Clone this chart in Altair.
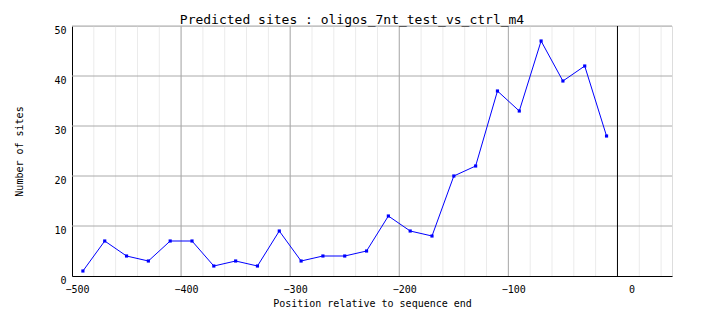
import altair as alt
import pandas as pd

# data
positions = [-490, -470, -450, -430, -410, -390, -370, -350, -330, -310,
             -290, -270, -250, -230, -210, -190, -170, -150, -130, -110,
             -90, -70, -50, -30, -10]
counts = [1, 7, 4, 3, 7, 7, 2, 3, 2, 9,
          3, 4, 4, 5, 12, 9, 8, 20, 22, 37,
          33, 47, 39, 42, 28]

x_ticks = [-500, -400, -300, -200, -100, 0]
y_ticks = [0, 10, 20, 30, 40, 50]
minor_x = list(range(-480, 51, 20))
major_x = [-400, -300, -200, -100]
zero_x = [0]

FONT = "DejaVu Sans Mono"

df = pd.DataFrame({"pos": positions, "n": counts})
xs = alt.Scale(domain=[-500, 50], nice=False, zero=False)
ys = alt.Scale(domain=[0, 50], nice=False)

x_axis = alt.Axis(values=x_ticks, grid=False, ticks=False, tickSize=0,
                  domainColor="black", labelAlign="right", labelOffset=17,
                  labelBaseline="top", labelPadding=8, labelFontSize=10,
                  labelFont=FONT, labelColor="black",
                  title="Position relative to sequence end",
                  titleFont=FONT, titleFontSize=10, titleFontWeight="normal",
                  titleColor="black", titleBaseline="alphabetic", titleY=30,
                  titleX=300, titleAlign="center", labelFlush=False,
                  labelOverlap=False)
y_axis = alt.Axis(values=y_ticks, grid=False, ticks=False, tickSize=0,
                  domainColor="black", labelBaseline="top", labelOffset=-1,
                  labelPadding=6, labelFontSize=10, labelFont=FONT,
                  labelColor="black", title="Number of sites",
                  titleFont=FONT, titleFontSize=10, titleFontWeight="normal",
                  titleColor="black", titleAngle=-90, titleAlign="center",
                  titleBaseline="alphabetic", titleX=-50, titleY=125,
                  labelFlush=False, labelOverlap=False)

minor = alt.Chart(pd.DataFrame({"v": minor_x})).mark_rule(
    color="#ebebeb", strokeWidth=1).encode(
    x=alt.X("v:Q", scale=xs, axis=x_axis))
major = alt.Chart(pd.DataFrame({"v": major_x})).mark_rule(
    color="#aaaaaa", strokeWidth=1).encode(
    x=alt.X("v:Q", scale=xs, axis=x_axis))
hgrid = alt.Chart(pd.DataFrame({"g": y_ticks[1:]})).mark_rule(
    color="#aaaaaa", strokeWidth=1).encode(
    y=alt.Y("g:Q", scale=ys, axis=y_axis))
zero = alt.Chart(pd.DataFrame({"v": zero_x})).mark_rule(
    color="black", strokeWidth=1).encode(
    x=alt.X("v:Q", scale=xs, axis=x_axis))

base = alt.Chart(df).encode(
    x=alt.X("pos:Q", scale=xs, axis=x_axis),
    y=alt.Y("n:Q", scale=ys, axis=y_axis),
)
line = base.mark_line(color="#0000ff", strokeWidth=1)
pts = base.mark_square(color="#0000ff", size=10, opacity=1)

chart = alt.layer(minor, major, hgrid, zero, line, pts).properties(
    width=600, height=250,
    title=alt.TitleParams("Predicted sites : oligos_7nt_test_vs_ctrl_m4",
                          font=FONT, fontSize=13, fontWeight="normal",
                          color="black", anchor="middle", dx=-20, dy=16,
                          baseline="alphabetic", offset=4),
    autosize=alt.AutoSizeParams(type="none"),
    padding={"left": 72, "top": 26, "right": 32, "bottom": 52},
).configure_view(stroke=None).configure(background="white")

chart.save("out.html", embed_options={"renderer": "svg", "actions": False})
